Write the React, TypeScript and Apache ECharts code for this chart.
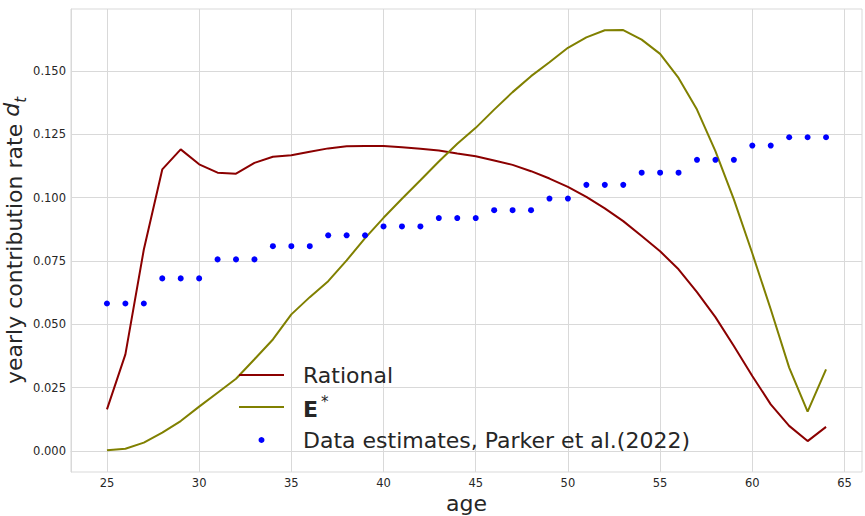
import React, { useEffect, useRef } from "react";
import * as echarts from "echarts";

const ages = [25, 26, 27, 28, 29, 30, 31, 32, 33, 34, 35, 36, 37, 38, 39, 40, 41, 42, 43, 44, 45, 46, 47, 48, 49, 50, 51, 52, 53, 54, 55, 56, 57, 58, 59, 60, 61, 62, 63, 64];

const rational = [0.0164, 0.0381, 0.0795, 0.1111, 0.1190, 0.1131, 0.1098, 0.1094, 0.1137, 0.1161, 0.1167, 0.1181, 0.1194, 0.1202, 0.1203, 0.1203, 0.1198, 0.1193, 0.1186, 0.1174, 0.1163, 0.1146, 0.1129, 0.1104, 0.1075, 0.1042, 0.1003, 0.0957, 0.0907, 0.0848, 0.0788, 0.0717, 0.0627, 0.0528, 0.0414, 0.0296, 0.0184, 0.0099, 0.0039, 0.0095];

const eStar = [0.0003, 0.0009, 0.0033, 0.0072, 0.0118, 0.0175, 0.0230, 0.0285, 0.0362, 0.0440, 0.0539, 0.0607, 0.0670, 0.0752, 0.0840, 0.0920, 0.0995, 0.1068, 0.1142, 0.1212, 0.1275, 0.1347, 0.1416, 0.1479, 0.1534, 0.1591, 0.1632, 0.1660, 0.1661, 0.1623, 0.1567, 0.1472, 0.1347, 0.1183, 0.0993, 0.0780, 0.0559, 0.0329, 0.0155, 0.0322];

const dataEstimates = [0.0582, 0.0582, 0.0582, 0.0681, 0.0681, 0.0681, 0.0756, 0.0756, 0.0756, 0.0808, 0.0808, 0.0808, 0.0851, 0.0851, 0.0851, 0.0886, 0.0886, 0.0886, 0.0919, 0.0919, 0.0919, 0.0950, 0.0950, 0.0950, 0.0996, 0.0996, 0.1050, 0.1050, 0.1050, 0.1098, 0.1098, 0.1098, 0.1149, 0.1149, 0.1149, 0.1205, 0.1205, 0.1238, 0.1238, 0.1238];

const xTicks = [25, 30, 35, 40, 45, 50, 55, 60, 65];
const yTicks = [0, 0.025, 0.05, 0.075, 0.1, 0.125, 0.15];

const FONT = "DejaVu Sans";
const TEXT = "#262626";
const GRID = "#d9d9d9";

export default function App() {
  const ref = useRef<HTMLDivElement>(null);
  useEffect(() => {
    if (!ref.current) return;
    const chart = echarts.init(ref.current, undefined, { renderer: "svg" });
    const pairs = (vals: number[]) => ages.map((a, i) => [a, vals[i]]);
    chart.setOption({
      animation: false,
      backgroundColor: "#ffffff",
      grid: {
        left: 71,
        right: 3,
        top: 9,
        bottom: 44,
        show: true,
        borderColor: GRID,
        borderWidth: 1,
        containLabel: false,
        outerBoundsMode: "none",
      },
      xAxis: {
        type: "value",
        min: 23.05,
        max: 65.95,
        name: "age",
        nameLocation: "middle",
        nameGap: 20,
        nameMoveOverlap: false,
        nameTextStyle: { fontFamily: FONT, fontSize: 22, color: TEXT },
        axisLine: { show: true, lineStyle: { color: GRID, width: 1 } },
        axisTick: { show: false, customValues: xTicks },
        axisLabel: {
          customValues: xTicks,
          fontFamily: FONT,
          fontSize: 11.5,
          color: TEXT,
          margin: 5,
        },
        splitLine: { show: true, lineStyle: { color: GRID, width: 1 } },
      },
      yAxis: {
        type: "value",
        min: -0.0083,
        max: 0.1744,
        name: "yearly contribution rate {d|d}{t|t}",
        nameLocation: "middle",
        nameRotate: 90,
        nameGap: 43,
        nameMoveOverlap: false,
        nameTextStyle: {
          fontFamily: FONT,
          fontSize: 22,
          color: TEXT,
          rich: {
            d: { fontFamily: FONT, fontSize: 22, fontStyle: "italic", color: TEXT, lineHeight: 28, verticalAlign: "top" },
            t: { fontFamily: FONT, fontSize: 15, fontStyle: "italic", color: TEXT, lineHeight: 28, verticalAlign: "bottom" },
          },
        },
        axisLine: { show: true, lineStyle: { color: GRID, width: 1 } },
        axisTick: { show: false, customValues: yTicks },
        axisLabel: {
          customValues: yTicks,
          fontFamily: FONT,
          fontSize: 11.5,
          color: TEXT,
          margin: 5,
          formatter: (v: number) => v.toFixed(3),
        },
        splitLine: { show: true, lineStyle: { color: GRID, width: 1 } },
      },
      series: [
        {
          name: "Rational",
          type: "line",
          data: pairs(rational),
          showSymbol: false,
          lineStyle: { color: "#8b0000", width: 2 },
          itemStyle: { color: "#8b0000" },
          z: 2,
        },
        {
          name: "E*",
          type: "line",
          data: pairs(eStar),
          showSymbol: false,
          lineStyle: { color: "#808000", width: 2 },
          itemStyle: { color: "#808000" },
          z: 3,
        },
        {
          name: "Data estimates, Parker et al.(2022)",
          type: "scatter",
          data: pairs(dataEstimates),
          symbol: "circle",
          symbolSize: 6,
          itemStyle: { color: "#0000ff", opacity: 1 },
          z: 4,
        },
      ],
      graphic: [
        { type: "line", shape: { x1: 239, y1: 375, x2: 284, y2: 375 }, style: { stroke: "#8b0000", lineWidth: 2 }, z: 10 },
        { type: "line", shape: { x1: 239, y1: 407, x2: 284, y2: 407 }, style: { stroke: "#808000", lineWidth: 2 }, z: 10 },
        { type: "circle", shape: { cx: 261.5, cy: 440, r: 3 }, style: { fill: "#0000ff" }, z: 10 },
        {
          type: "text", x: 303, y: 375, z: 10,
          style: { text: "Rational", fontFamily: FONT, fontSize: 22, fill: TEXT, verticalAlign: "middle", align: "left" },
        },
        {
          type: "text", x: 303, y: 407, z: 10,
          style: {
            text: "{b|E}{s|*}",
            fontFamily: FONT, fontSize: 22, fill: TEXT, verticalAlign: "middle", align: "left",
            rich: {
              b: { fontFamily: FONT, fontSize: 22, fontWeight: "bold", fill: TEXT, lineHeight: 26, verticalAlign: "bottom" },
              s: { fontFamily: FONT, fontSize: 15, fill: TEXT, lineHeight: 26, verticalAlign: "top", padding: [0, 0, 0, 3] },
            },
          },
        },
        {
          type: "text", x: 303, y: 440, z: 10,
          style: { text: "Data estimates, Parker et al.(2022)", fontFamily: FONT, fontSize: 22, fill: TEXT, verticalAlign: "middle", align: "left" },
        },
      ],
    });
    return () => chart.dispose();
  }, []);
  return (
    <div
      ref={ref}
      style={{ position: "absolute", left: 0, top: 0, width: 865, height: 516 }}
    />
  );
}
